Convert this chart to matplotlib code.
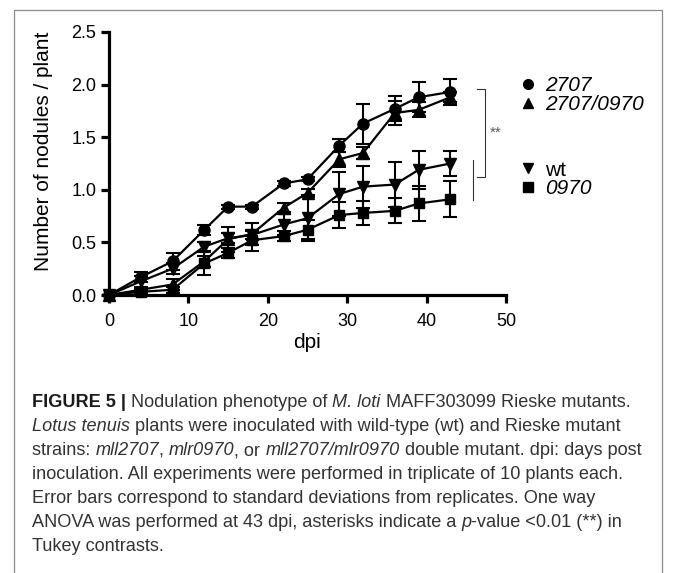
import matplotlib
matplotlib.use("Agg")
import matplotlib.pyplot as plt
from matplotlib.lines import Line2D
from matplotlib.patches import Rectangle

# data
days = [0, 4, 8, 12, 15, 18, 22, 25, 29, 32, 36, 39, 43]

m2707 = [0, 0.17, 0.32, 0.62, 0.84, 0.84, 1.06, 1.10, 1.42, 1.63, 1.77, 1.88, 1.93]
m2707_sd = [0, 0.05, 0.08, 0.05, 0.02, 0.02, 0.02, 0.02, 0.06, 0.19, 0.12, 0.14, 0.12]

m2707_0970 = [0, 0.05, 0.10, 0.32, 0.53, 0.58, 0.83, 0.97, 1.29, 1.35, 1.73, 1.76, 1.88]
m2707_0970_sd = [0, 0.02, 0.05, 0.05, 0.12, 0.10, 0.04, 0.04, 0.07, 0.06, 0.11, 0.07, 0.05]

wt = [0, 0.13, 0.25, 0.46, 0.54, 0.57, 0.67, 0.73, 0.96, 1.03, 1.05, 1.19, 1.25]
wt_sd = [0, 0.05, 0.05, 0.04, 0.05, 0.04, 0.10, 0.22, 0.21, 0.20, 0.21, 0.18, 0.12]

m0970 = [0, 0.03, 0.05, 0.30, 0.40, 0.52, 0.56, 0.62, 0.76, 0.78, 0.80, 0.87, 0.91]
m0970_sd = [0, 0.02, 0.03, 0.11, 0.05, 0.10, 0.05, 0.09, 0.12, 0.11, 0.12, 0.17, 0.17]

legend_top = ["2707", "2707/0970"]
legend_bottom = ["wt", "0970"]

caption = [
    [("FIGURE 5 | ", "bold", "normal"), ("Nodulation phenotype of ", "normal", "normal"),
     ("M. loti", "normal", "italic"), (" MAFF303099 Rieske mutants.", "normal", "normal")],
    [("Lotus tenuis", "normal", "italic"),
     (" plants were inoculated with wild-type (wt) and Rieske mutant", "normal", "normal")],
    [("strains: ", "normal", "normal"), ("mll2707", "normal", "italic"), (", ", "normal", "normal"),
     ("mlr0970", "normal", "italic"), (", or ", "normal", "normal"),
     ("mll2707/mlr0970", "normal", "italic"), (" double mutant. dpi: days post", "normal", "normal")],
    [("inoculation. All experiments were performed in triplicate of 10 plants each.", "normal", "normal")],
    [("Error bars correspond to standard deviations from replicates. One way", "normal", "normal")],
    [("ANOVA was performed at 43 dpi, asterisks indicate a ", "normal", "normal"), ("p", "normal", "italic"),
     ("-value <0.01 (**) in", "normal", "normal")],
    [("Tukey contrasts.", "normal", "normal")],
]

plt.rcParams["font.family"] = "Liberation Sans"

W, H = 673, 573
fig = plt.figure(figsize=(W / 100, H / 100), dpi=100)

# frame around the figure panel
fig.add_artist(Rectangle((14 / W, -0.1), (662 - 14) / W, 1 - 10 / H + 0.1, transform=fig.transFigure,
                         fill=False, edgecolor="#8a8a8a", linewidth=0.9))

ax = fig.add_axes([109 / W, 1 - 295 / H, 397 / W, 263 / H])

series = [
    (m2707, m2707_sd, "o", 8),
    (m2707_0970, m2707_0970_sd, "^", 8.5),
    (wt, wt_sd, "v", 8.5),
    (m0970, m0970_sd, "s", 7.5),
]
for y, sd, mk, ms in series:
    ax.errorbar(days, y, yerr=sd, color="black", marker=mk, markersize=ms, linewidth=1.6,
                elinewidth=1.5, capsize=5, capthick=1.5, clip_on=False, zorder=3)

ax.set_xlim(0, 50)
ax.set_ylim(0, 2.5)
ax.set_xticks([0, 10, 20, 30, 40, 50])
ax.set_yticks([0, 0.5, 1.0, 1.5, 2.0, 2.5])
ax.set_yticklabels(["0.0", "0.5", "1.0", "1.5", "2.0", "2.5"])
for s in ["top", "right"]:
    ax.spines[s].set_visible(False)
for s in ["left", "bottom"]:
    ax.spines[s].set_linewidth(2.3)
ax.tick_params(axis="both", width=2.3, length=6, labelsize=13, color="black")
ax.tick_params(axis="x", pad=7)
ax.tick_params(axis="y", pad=3)
ax.set_xlabel("dpi", fontsize=15, labelpad=2)
ax.set_ylabel("Number of nodules / plant", fontsize=15)
ax.yaxis.set_label_coords(-0.142, 0.548)

# significance bracket
ax.plot([46.35, 47.35, 47.35, 46.35], [1.958, 1.958, 1.122, 1.122], color="#333333", lw=0.8, clip_on=False)
ax.plot([45.84, 45.84], [1.283, 0.903], color="#333333", lw=0.8, clip_on=False)
ax.text(47.95, 1.54, "**", fontsize=11, color="#555555", ha="left", va="center")

# legends
h_top = [Line2D([], [], marker="o", color="black", ls="none", markersize=7),
         Line2D([], [], marker="^", color="black", ls="none", markersize=7)]
h_bot = [Line2D([], [], marker="v", color="black", ls="none", markersize=7),
         Line2D([], [], marker="s", color="black", ls="none", markersize=6.5)]
leg1 = fig.legend(h_top, legend_top, loc="center left", bbox_to_anchor=(520 / W, 1 - 95 / H),
                  frameon=False, fontsize=15, labelspacing=0.0, handlelength=0.8, handletextpad=0.4,
                  borderpad=0, borderaxespad=0)
leg2 = fig.legend(h_bot, legend_bottom, loc="center left", bbox_to_anchor=(520 / W, 1 - 179.5 / H),
                  frameon=False, fontsize=15, labelspacing=0.0, handlelength=0.8, handletextpad=0.4,
                  borderpad=0, borderaxespad=0)
for t in leg1.get_texts():
    t.set_style("italic")
leg2.get_texts()[1].set_style("italic")

# caption, laid out run by run so bold/italic pieces sit inline
cap_family = "Liberation Sans"
renderer = fig.canvas.get_renderer()


def seg_width(text, size, weight, style):
    probe = fig.text(0, 0, "|" + text + "|", fontsize=size, family=cap_family, weight=weight, style=style)
    w1 = probe.get_window_extent(renderer=renderer).width
    probe.set_text("||")
    w0 = probe.get_window_extent(renderer=renderer).width
    probe.remove()
    return w1 - w0


base = 10
w_line1 = sum(seg_width(s, base, wgt, sty) for s, wgt, sty in caption[0])
cap_size = base * (633 - 32) / w_line1

x0 = 32
baseline = 407
for line in caption:
    x = x0
    for s, wgt, sty in line:
        col = "#1a1a1a" if wgt == "bold" else "#333333"
        fig.text(x / W, 1 - baseline / H, s, fontsize=cap_size, family=cap_family, weight=wgt,
                 style=sty, color=col, ha="left", va="baseline")
        x += seg_width(s, cap_size, wgt, sty)
    baseline += 24

fig.savefig("out.png", dpi=100)
